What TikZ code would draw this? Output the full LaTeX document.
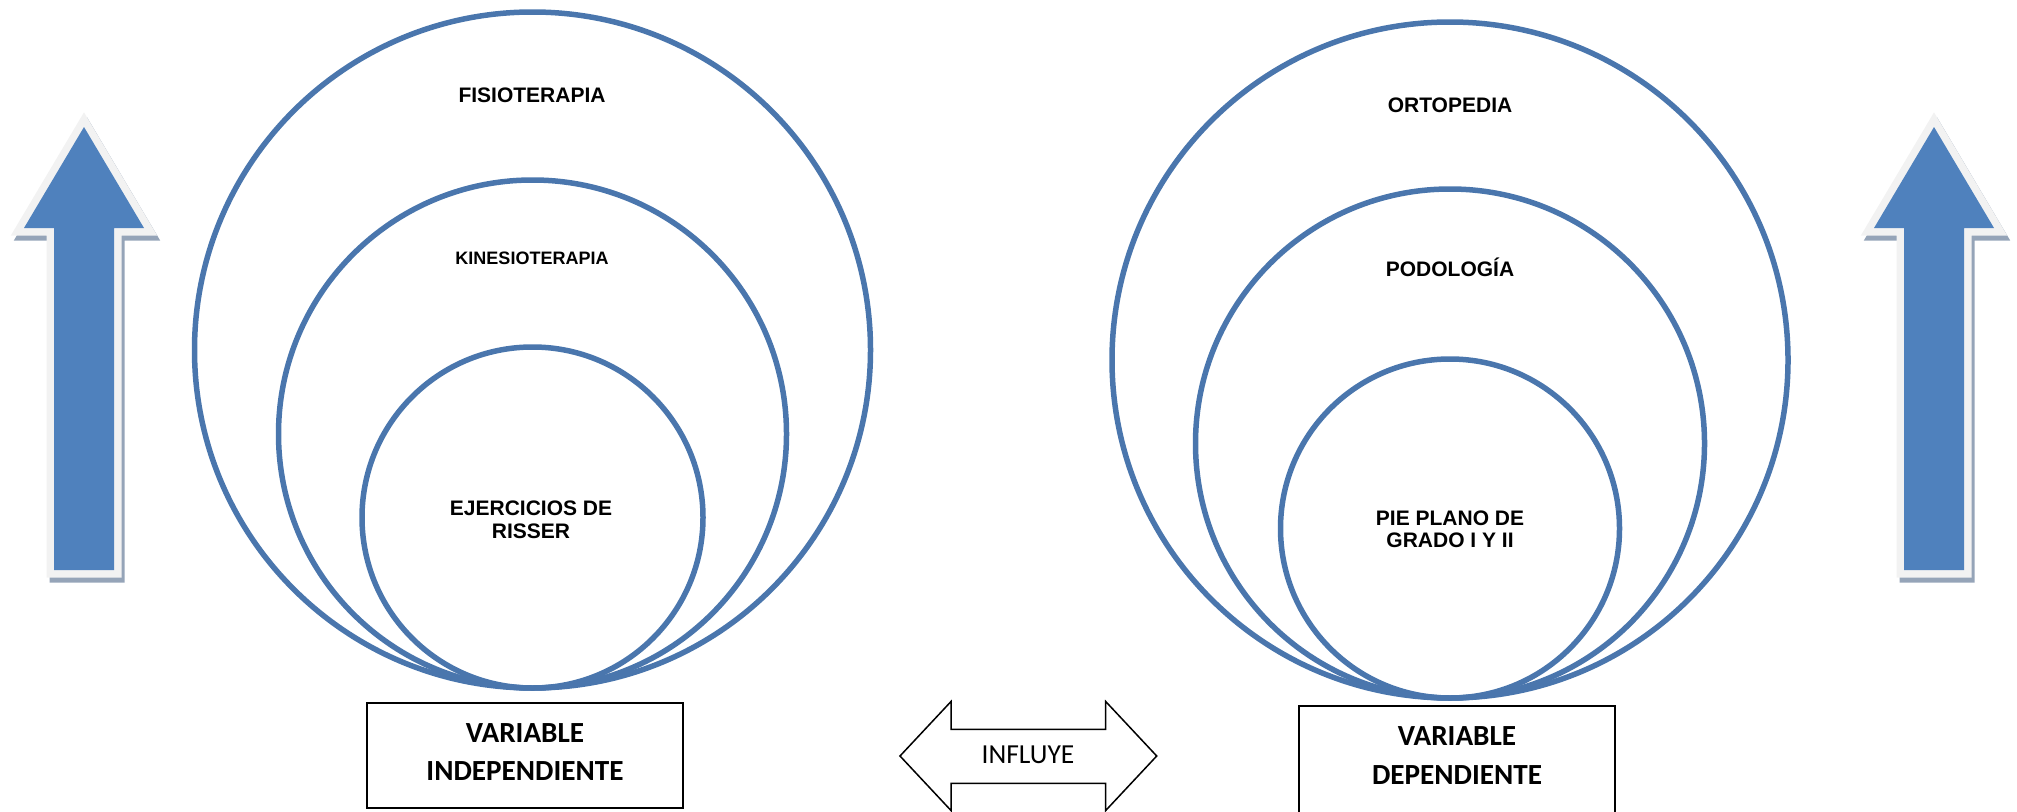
\documentclass[tikz,border=0pt]{standalone}
\usepackage{fontspec}
\setmainfont{Liberation Sans}
\newfontfamily\calib{Carlito}
\definecolor{ringblue}{HTML}{4A76AD}
\definecolor{arrowblue}{HTML}{4F81BD}
\definecolor{arrowrim}{HTML}{F2F2F2}
\definecolor{arrowshade}{HTML}{95A4B8}
\begin{document}
\begin{tikzpicture}[x=1pt,y=-1pt,
  ring/.style={draw=ringblue,line width=5.5pt},
  lbl/.style={anchor=base,inner sep=0pt,font=\fontsize{21}{23}\selectfont\bfseries},
  lblsmall/.style={anchor=base,inner sep=0pt,font=\fontsize{18}{20}\selectfont\bfseries},
  boxtxt/.style={anchor=base,inner sep=0pt,font=\calib\fontsize{29.2}{34}\selectfont\bfseries},
  varbox/.style={draw=black,line width=2pt},
  bigarrow/.style={fill=arrowblue,draw=arrowrim,line width=15pt,miter limit=10},
  arrowshadow/.style={fill=arrowshade,draw=arrowshade,line width=15pt,miter limit=10}]
\useasboundingbox (0,0) rectangle (2017,811);
\clip (0,0) rectangle (2017,811);
% vertical arrows
\foreach \dx in {0,1850}{
  \begin{scope}[xshift=\dx]
  \draw[arrowshadow,shift={(3,5)}] (84,127) -- (144,228) -- (114,228) -- (114,570) -- (54,570) -- (54,228) -- (24,228) -- cycle;
  \draw[bigarrow] (84,127) -- (144,228) -- (114,228) -- (114,570) -- (54,570) -- (54,228) -- (24,228) -- cycle;
  \fill[arrowblue] (84,127) -- (144,228) -- (114,228) -- (114,570) -- (54,570) -- (54,228) -- (24,228) -- cycle;
  \end{scope}
}
% left rings
\draw[ring] (532.5,350) circle[radius=338];
\draw[ring] (532.5,434) circle[radius=254];
\draw[ring] (532.5,517.5) circle[radius=170.5];
% right rings
\draw[ring] (1450,360) circle[radius=338];
\draw[ring] (1450,443.5) circle[radius=254.5];
\draw[ring] (1450,528.5) circle[radius=169.5];
% labels
\node[lbl] (fisio) at (532,102.5) {FISIOTERAPIA};
\node[lblsmall] (kine) at (532,264.4) {KINESIOTERAPIA};
\node[lbl] (ejer1) at (531,515.5) {EJERCICIOS DE};
\node[lbl] (ejer2) at (531,538.5) {RISSER};
\node[lbl] (orto) at (1450,112.5) {ORTOPEDIA};
\node[lbl] (podo) at (1450,276.5) {PODOLOGÍA};
\node[lbl] (pie1) at (1450,525.8) {PIE PLANO DE};
\node[lbl] (pie2) at (1450,547.5) {GRADO I Y II};
% variable boxes
\draw[varbox] (366.7,702.7) rectangle (683.3,807.7);
\node[boxtxt] (vi1) at (525,742) {VARIABLE};
\node[boxtxt] (vi2) at (525,780.7) {INDEPENDIENTE};
\draw[varbox] (1299,706) rectangle (1615,840);
\node[boxtxt] (vd1) at (1457,745) {VARIABLE};
\node[boxtxt] (vd2) at (1457,784) {DEPENDIENTE};
% double arrow
\draw[line width=1.5pt,line join=miter] (900,756) -- (951,701.5) -- (951,729.3) -- (1105.7,729.3) -- (1105.7,701.5) -- (1156.7,756) -- (1105.7,810.5) -- (1105.7,783.3) -- (951,783.3) -- (951,810.5) -- cycle;
\node[anchor=base,inner sep=0pt,font=\calib\fontsize{27.5}{33}\selectfont] (influye) at (1028,763) {INFLUYE};
\end{tikzpicture}
\end{document}
